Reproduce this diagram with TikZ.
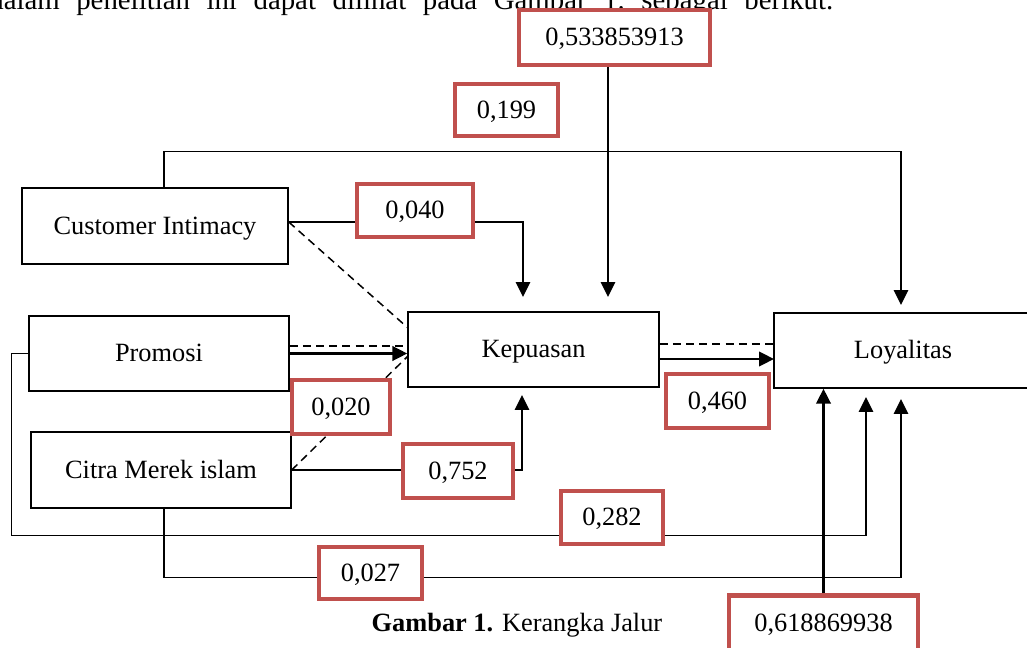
\documentclass[tikz,border=0pt]{standalone}
\usepackage{fontspec}
\setmainfont{Liberation Serif}
\usetikzlibrary{arrows.meta,backgrounds}
\definecolor{boxred}{HTML}{C0504D}

\begin{document}
\begin{tikzpicture}[x=0.02cm,y=-0.02cm,
  font=\fontsize{15}{18}\selectfont,
  every node/.style={text height=1.05em,text depth=0.1em},
  var/.style={draw,line width=0.85pt,minimum height=1.5cm,inner sep=0pt},
  coef/.style={draw=boxred,line width=2.4pt,fill=white,minimum height=1.08cm,inner sep=0pt},
  arr/.style={line width=0.85pt,-{Triangle[length=0.3cm,width=0.29cm]}},
  dashline/.style={line width=0.85pt,dash pattern=on 4.5pt off 3pt}]
\useasboundingbox (0,0) rectangle (1027,648);
\clip (0,0) rectangle (1027,648);

%text above
\node[anchor=base west,inner sep=0pt,text height=,text depth=,font=\fontsize{16.4}{18}\selectfont\frenchspacing] (intro) at (-11,9.5)
  {\makebox[16.88cm][s]{dalam penelitian ini dapat dilihat pada Gambar 1. sebagai berikut.}};

%variables
\node[var,minimum width=5.32cm,minimum height=1.52cm] (ci) at (155,226) {Customer Intimacy};
\node[var,minimum width=5.2cm] (pr) at (159,353.5) {Promosi};
\node[var,minimum width=5.2cm,minimum height=1.52cm] (cm) at (161,470) {Citra Merek islam};
\node[var,minimum width=5.02cm] (kp) at (533.5,349.5) {Kepuasan};
\node[var,minimum width=5.16cm] (ly) at (903,350.5) {Loyalitas};

%coefficients
\node[coef,minimum width=3.82cm,minimum height=1.1cm] (b1) at (614.5,37.5) {0,533853913};
\node[coef,minimum width=2.06cm,minimum height=1.04cm] (b2) at (506.5,110) {0,199};
\node[coef,minimum width=2.32cm,minimum height=1.06cm] (b3) at (415,210.5) {0,040};
\node[coef,minimum width=1.96cm] (b4) at (341,407) {0,020};
\node[coef,minimum width=2.2cm] (b5) at (458,471) {0,752};
\node[coef,minimum width=2.06cm] (b6) at (717.5,401) {0,460};
\node[coef,minimum width=2.04cm,minimum height=1.06cm] (b7) at (612,517.5) {0,282};
\node[coef,minimum width=2.06cm,minimum height=1.04cm] (b8) at (370.5,573) {0,027};
\node[coef,minimum width=3.78cm,minimum height=1.1cm] (b9) at (823.5,623) {0,618869938};

%caption
\node[anchor=base,inner sep=0pt,text height=,text depth=] (cap) at (517,631) {\textbf{Gambar 1.} Kerangka Jalur};

%arrow ends
\coordinate (kpA) at (608,297);
\coordinate (kpB) at (523,297);
\coordinate (kpC) at (522,395);
\coordinate (kpD) at (408,346);
\coordinate (kpE) at (408,356);
\coordinate (kpF) at (408,328);
\coordinate (lyA) at (901,305);
\coordinate (lyB) at (866,397);
\coordinate (lyC) at (901,399);
\coordinate (lyD) at (774,344);
\coordinate (lyE) at (774,359);

\begin{scope}[on background layer]
%to Kepuasan
\draw[arr] (b1.south -| kpA) -- (kpA);
\draw[arr] ([yshift=0.08cm]ci.east) -| (kpB);
\draw[dashline] ([yshift=0.08cm]ci.east) -- (kpF);
\draw[dashline] (pr.east |- kpD) -- (kpD);
\draw[arr,line width=1.5pt] (pr.east) -- (pr.east -| kp.west);
\draw[dashline] (cm.east) -- (kpE);
\draw[arr] (cm.east) -| (kpC);

%to Loyalitas
\draw[arr] ([xshift=0.18cm]ci.north) -- ++(0,-36) -| (lyA);
\draw[dashline] (kp.east |- lyD) -- (lyD);
\draw[arr,line width=1.3pt] (kp.east |- lyE) -- (lyE);
\draw[arr] (pr.west) -- ++(-17,0) -- ++(0,182) -| (lyB);
\draw[arr] ([xshift=0.06cm]cm.south) -- ++(0,69) -| (lyC);
\draw[arr,line width=1.5pt] (b9.north) -- (b9.north |- ly.south);
\end{scope}
\end{tikzpicture}
\end{document}
